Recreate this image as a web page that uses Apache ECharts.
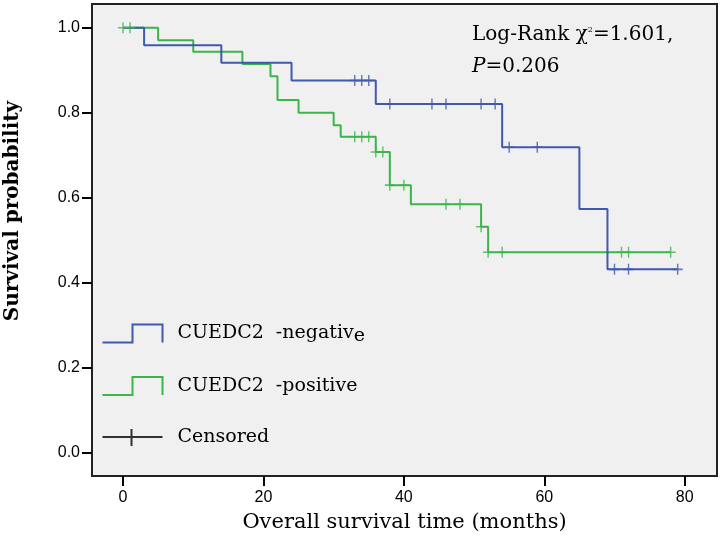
<!DOCTYPE html>
<html><head><meta charset="utf-8">
<script src="https://cdn.jsdelivr.net/npm/echarts@6/dist/echarts.min.js"></script>
<style>html,body{margin:0;padding:0;background:#fff}#c{width:722px;height:545px}</style>
</head><body><div id="c"></div>
<script>
// Kaplan-Meier step data (months, survival probability)
const negTimes = [0, 3, 14, 24, 36, 54, 65, 69, 79];
const negSurv  = [1.0, 0.959, 0.918, 0.876, 0.821, 0.719, 0.574, 0.432, 0.432];
const negCensorTimes = [33, 34, 35, 38, 44, 46, 51, 53, 55, 59, 70, 72, 79];

const posTimes = [0, 5, 10, 17, 21, 22, 25, 30, 31, 36, 38, 41, 51, 52, 78];
const posSurv  = [1.0, 0.971, 0.944, 0.915, 0.886, 0.830, 0.800, 0.771, 0.744, 0.708, 0.630, 0.585, 0.532, 0.472, 0.472];
const posCensorTimes = [0, 1, 33, 34, 35, 36, 37, 38, 40, 46, 48, 51, 52, 54, 71, 72, 78];

const xTicks = [0, 20, 40, 60, 80];
const yTicks = [0, 0.2, 0.4, 0.6, 0.8, 1.0];

const BLUE = '#4059ab';
const GREEN = '#3bb54a';
const SERIF = 'DejaVu Serif';
const SANS = 'Liberation Sans, Arial, sans-serif';

function survAt(times, surv, t) {
  let v = surv[0];
  for (let i = 0; i < times.length; i++) { if (times[i] <= t) v = surv[i]; }
  return v;
}
const stepData = (times, surv) => times.map((t, i) => [t, surv[i]]);
const censorData = (ct, times, surv) => ct.map(t => [t, survAt(times, surv, t)]);

const plus = 'path://M5,0L5,10M0,5L10,5';
const stepIcon = 'path://M0,18L30,18L30,0L60,0L60,18';
const censorIcon = 'path://M0,8L60,8M29,0L29,17';

const chart = echarts.init(document.getElementById('c'), null, {renderer: 'canvas'});
chart.setOption({
  animation: false,
  backgroundColor: '#fff',
  grid: {left: 92, right: 5, top: 4, bottom: 69, containLabel: false, outerBoundsMode: 'none',
         show: true, backgroundColor: '#f0f0f0', borderColor: '#222', borderWidth: 2},
  xAxis: {
    type: 'value', min: -4.42, max: 84.6,
    name: 'Overall survival time (months)', nameLocation: 'middle', nameGap: 36,
    nameTextStyle: {fontFamily: SERIF, fontSize: 21, color: '#000'},
    axisLine: {show: true, onZero: false, lineStyle: {color: '#222', width: 2}},
    axisTick: {show: true, length: 10, lineStyle: {color: '#000', width: 2}, customValues: xTicks},
    axisLabel: {customValues: xTicks, fontFamily: SANS, fontSize: 16, color: '#000', margin: 14},
    splitLine: {show: false}
  },
  yAxis: {
    type: 'value', min: -0.054, max: 1.056,
    name: 'Survival probability', nameLocation: 'middle', nameGap: 69,
    nameTextStyle: {fontFamily: SERIF, fontSize: 20, fontWeight: 'bold', color: '#000', padding: [0, 0, 0, 58]},
    axisLine: {show: true, onZero: false, lineStyle: {color: '#222', width: 2}},
    axisTick: {show: true, length: 10, lineStyle: {color: '#000', width: 2}, customValues: yTicks},
    axisLabel: {customValues: yTicks, formatter: v => v.toFixed(1), fontFamily: SANS, fontSize: 16, color: '#000', margin: 12},
    splitLine: {show: false}
  },
  legend: {
    orient: 'vertical', left: 100, top: 322, padding: 0, itemWidth: 60, itemHeight: 18, itemGap: 29,
    selectedMode: false,
    formatter: n => n === 'CUEDC2 -negative' ? '{t|CUEDC2  -negativ}{e|e}' : (n === 'CUEDC2 -positive' ? '{t|CUEDC2  -positive}' : '{t|Censored}'),
    textStyle: {
      fontFamily: SERIF, fontSize: 19, color: '#000', padding: [0, 0, 0, 10],
      rich: {
        t: {fontFamily: SERIF, fontSize: 19, color: '#000', lineHeight: 24},
        e: {fontFamily: SERIF, fontSize: 19, color: '#000', lineHeight: 16, verticalAlign: 'bottom'}
      }
    },
    data: [
      {name: 'CUEDC2 -negative', icon: stepIcon, itemStyle: {color: 'none', borderColor: BLUE, borderWidth: 2}},
      {name: 'CUEDC2 -positive', icon: stepIcon, itemStyle: {color: 'none', borderColor: GREEN, borderWidth: 2}},
      {name: 'Censored', icon: censorIcon, itemStyle: {color: 'none', borderColor: '#000', borderWidth: 2}}
    ]
  },
  graphic: [{
    type: 'text', left: 472, top: 19, silent: true,
    style: {
      text: '{a|Log-Rank }{a|χ}{s|2}{a|=1.601,}\n{i|P}{a|=0.206}',
      fill: '#000',
      rich: {
        a: {fontFamily: SERIF, fontSize: 20, fill: '#000', lineHeight: 32},
        i: {fontFamily: SERIF, fontSize: 20, fontStyle: 'italic', fill: '#000', lineHeight: 32},
        s: {fontFamily: SERIF, fontSize: 8, fill: '#000', lineHeight: 20, verticalAlign: 'top', padding: [7, 0, 0, 0]}
      }
    }
  }],
  series: [
    {name: 'CUEDC2 -negative', type: 'line', step: 'end', data: stepData(negTimes, negSurv),
     showSymbol: false, symbol: 'none', lineStyle: {color: BLUE, width: 2}, itemStyle: {color: BLUE}, silent: true, z: 3},
    {name: 'CUEDC2 -positive', type: 'line', step: 'end', data: stepData(posTimes, posSurv),
     showSymbol: false, symbol: 'none', lineStyle: {color: GREEN, width: 2}, itemStyle: {color: GREEN}, silent: true, z: 2},
    {name: 'CUEDC2 -negative censored', type: 'scatter', data: censorData(negCensorTimes, negTimes, negSurv),
     symbol: plus, symbolSize: [10, 11], itemStyle: {color: 'none', borderColor: BLUE, borderWidth: 1.5}, silent: true, z: 4},
    {name: 'CUEDC2 -positive censored', type: 'scatter', data: censorData(posCensorTimes, posTimes, posSurv),
     symbol: plus, symbolSize: [10, 11], itemStyle: {color: 'none', borderColor: GREEN, borderWidth: 1.5}, silent: true, z: 4},
    {name: 'Censored', type: 'scatter', data: [], itemStyle: {color: '#000'}}
  ]
});
</script>
</body></html>
